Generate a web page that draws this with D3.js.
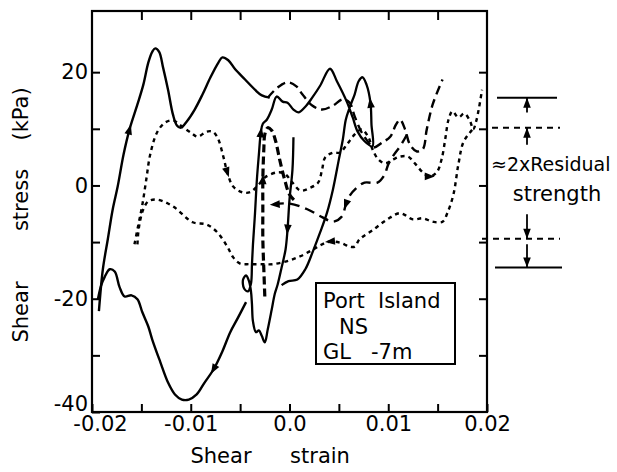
<!DOCTYPE html>
<html>
<head>
<meta charset="utf-8">
<style>
body{margin:0;background:#fff}
svg text{font-family:"DejaVu Sans",sans-serif;font-size:21px;fill:#000;white-space:pre}
</style>
</head>
<body>
<script src="https://d3js.org/d3.v7.min.js"></script>
<svg width="617" height="472"></svg>
<script>
// shear strain / shear stress (kPa) pairs
const solidUpper = [[-0.0193,-22.2],[-0.0189,-14.8],[-0.0184,-9.5],[-0.0179,-4.2],[-0.0174,-0.2],[-0.0168,5.5],[-0.0162,9.9],[-0.0154,14.3],[-0.0148,17.8],[-0.0143,21.7],[-0.0139,23.6],[-0.0136,24.2],[-0.0132,23.6],[-0.0128,20.8],[-0.0123,16.9],[-0.0118,12.5],[-0.0114,10.6],[-0.0110,10.2],[-0.0104,11.3],[-0.0096,13.4],[-0.0088,16.1],[-0.0080,19.1],[-0.0072,21.7],[-0.0068,22.6],[-0.0062,22.1],[-0.0055,20.5],[-0.0045,18.7],[-0.0035,16.9],[-0.0028,15.9],[-0.0020,15.5]]
const solidValley = [[-0.0044,-20.6],[-0.0052,-23.3],[-0.0060,-25.9],[-0.0068,-29.3],[-0.0077,-32.5],[-0.0086,-34.8],[-0.0094,-36.9],[-0.0102,-37.8],[-0.0109,-37.8],[-0.0116,-36.9],[-0.0123,-34.8],[-0.0131,-31.1],[-0.0139,-27.2],[-0.0143,-24.9],[-0.0149,-22.4],[-0.0154,-20.1],[-0.0160,-19.4],[-0.0167,-19.6],[-0.0172,-18.0],[-0.0177,-15.2],[-0.0182,-14.8],[-0.0187,-16.1],[-0.0191,-17.8],[-0.0194,-20.1]]
const solidLoop = [[0.0004,8.5],[0.0003,2.8],[0.0000,-2.5],[-0.0002,-7.8],[-0.0004,-11.3],[-0.0008,-14.5],[-0.0012,-17.5],[-0.0015,-19.2],[-0.0018,-21.9],[-0.0022,-25.4],[-0.0025,-27.7],[-0.0028,-26.6],[-0.0031,-25.6],[-0.0034,-25.9],[-0.0037,-24.0],[-0.0038,-21.0],[-0.0039,-18.7],[-0.0041,-16.9],[-0.0044,-15.9],[-0.0047,-16.6],[-0.0046,-18.2],[-0.0042,-18.7],[-0.0039,-17.3],[-0.0038,-13.9],[-0.0037,-10.4],[-0.0035,-5.1],[-0.0033,1.1],[-0.0031,5.5],[-0.0029,9.4],[-0.0027,10.9],[-0.0023,11.6],[-0.0018,13.4],[-0.0013,15.7],[-0.0007,14.8],[-0.0002,14.6],[0.0004,13.4],[0.0009,12.9],[0.0016,13.9],[0.0023,15.5],[0.0031,17.6],[0.0041,20.6],[0.0048,18.4],[0.0058,14.8],[0.0064,12.0],[0.0069,9.5],[0.0076,7.8],[0.0084,6.9],[0.0083,10.8],[0.0082,14.6],[0.0078,17.8],[0.0074,19.1],[0.0070,18.4],[0.0066,16.1],[0.0061,13.8],[0.0057,11.6],[0.0054,8.1],[0.0050,4.6],[0.0044,-0.7],[0.0038,-4.8],[0.0031,-8.3],[0.0024,-11.5],[0.0016,-14.8],[0.0008,-16.6],[-0.0001,-16.9],[-0.0008,-17.6]]
const dashLong1 = [[-0.0022,15.5],[-0.0012,17.3],[-0.0002,18.2],[0.0007,17.5],[0.0013,16.1],[0.0023,14.1],[0.0033,13.4],[0.0044,14.1],[0.0054,15.2],[0.0061,14.6],[0.0066,12.2],[0.0073,9.4],[0.0080,7.6],[0.0085,6.7],[0.0094,7.6],[0.0102,8.6],[0.0108,10.8],[0.0112,11.6],[0.0117,9.9],[0.0122,7.2],[0.0129,6.0],[0.0135,6.4],[0.0139,9.9],[0.0145,14.3],[0.0155,18.7]]
const dashLong2 = [[0.0119,9.0],[0.0112,6.9],[0.0106,5.5],[0.0100,3.7],[0.0096,1.8],[0.0089,0.5],[0.0076,0.5],[0.0068,-0.4],[0.0061,-1.8],[0.0057,-3.4],[0.0053,-5.5],[0.0044,-6.4],[0.0033,-5.6],[0.0018,-4.2],[0.0000,-3.2],[-0.0020,-3.4]]
const dashVertical = [[-0.0025,-19.6],[-0.0026,-14.8],[-0.0027,-9.5],[-0.0027,-4.2],[-0.0027,1.1],[-0.0026,6.4],[-0.0025,9.0],[-0.0022,10.2],[-0.0018,9.7],[-0.0014,7.8],[-0.0010,4.6],[-0.0005,1.1],[0.0000,-1.6],[0.0006,-2.8]]
const dotUpper = [[-0.0157,-10.4],[-0.0153,-6.9],[-0.0149,-3.4],[-0.0145,1.1],[-0.0141,5.5],[-0.0134,9.4],[-0.0126,11.1],[-0.0118,11.5],[-0.0109,10.4],[-0.0099,9.2],[-0.0093,8.6],[-0.0084,9.5],[-0.0078,9.5],[-0.0073,8.5],[-0.0067,5.1],[-0.0063,2.3],[-0.0057,-0.2],[-0.0048,-1.2],[-0.0040,-1.2],[-0.0032,0.0],[-0.0025,1.4],[-0.0013,2.3],[-0.0005,2.1],[0.0003,0.5],[0.0011,-0.9],[0.0021,-0.4],[0.0029,0.5],[0.0033,2.8],[0.0036,4.9],[0.0044,5.8],[0.0051,5.8],[0.0058,7.2],[0.0066,9.0],[0.0073,9.9],[0.0080,8.5],[0.0084,6.4],[0.0090,4.6],[0.0097,3.9],[0.0105,4.6],[0.0112,5.1],[0.0120,5.1],[0.0127,3.9],[0.0135,2.3],[0.0142,1.6],[0.0149,2.3],[0.0154,4.6],[0.0158,8.5],[0.0161,11.6],[0.0165,13.1],[0.0171,12.0],[0.0177,12.7],[0.0183,11.3],[0.0186,9.9],[0.0189,11.3],[0.0192,13.8],[0.0195,16.9]]
const dotLower = [[-0.0154,-10.4],[-0.0153,-8.1],[-0.0151,-6.0],[-0.0148,-4.2],[-0.0143,-2.8],[-0.0134,-2.5],[-0.0118,-3.7],[-0.0098,-6.5],[-0.0084,-6.9],[-0.0073,-8.3],[-0.0063,-10.8],[-0.0057,-12.7],[-0.0050,-13.8],[-0.0040,-13.9],[-0.0027,-13.9],[-0.0017,-13.9],[-0.0003,-13.4],[0.0011,-12.5],[0.0024,-11.3],[0.0033,-10.4],[0.0041,-9.9],[0.0051,-10.1],[0.0061,-10.8],[0.0066,-10.8],[0.0071,-9.5],[0.0085,-7.8],[0.0099,-6.0],[0.0112,-4.9],[0.0125,-6.0],[0.0135,-5.8],[0.0145,-6.4],[0.0155,-6.4],[0.0160,-4.8],[0.0166,-1.6],[0.0171,3.7],[0.0176,7.6],[0.0183,9.4],[0.0188,10.4]]

const strainTicks = [-0.02,-0.015,-0.01,-0.005,0,0.005,0.01,0.015,0.02]
const strainLabels = {"-0.02":"-0.02","-0.01":"-0.01","0":"0.0","0.01":"0.01","0.02":"0.02"}
const stressTicks = [-40,-30,-20,-10,0,10,20]
const stressLabels = {"-40":"-40","-20":"-20","0":"0","20":"20"}

// residual strength band drawn at the right
const residualSolid = [15.5,-14.5]
const residualDashed = [10.2,-9.4]
const residualArrows = [[12.9,15.5],[7.2,10.2],[-5.1,-9.4],[-10.4,-14.5]]

const svg = d3.select("svg")
const x = d3.scaleLinear().domain([-0.02,0.02]).range([92,487])
const y = d3.scaleLinear().domain([-40,30.8]).range([412,11])

svg.append("rect").attr("x",92).attr("y",11).attr("width",395).attr("height",401)
    .attr("fill","none").attr("stroke","black").attr("stroke-width",2.2)

const xAxis = d3.axisBottom(x).tickValues(strainTicks).tickSize(-8).tickPadding(4)
    .tickFormat(d => strainLabels[String(+d.toFixed(3))] || "")
const gx = svg.append("g").attr("transform","translate(0,412)").call(xAxis)
gx.selectAll(".tick text").filter(d => d === -0.02).attr("dx",8)
svg.append("g").attr("transform","translate(0,11)")
    .call(d3.axisTop(x).tickValues(strainTicks.slice(1,-1)).tickSize(-9).tickFormat(""))
const yAxis = d3.axisLeft(y).tickValues(stressTicks).tickSize(-8).tickPadding(4)
    .tickFormat(d => stressLabels[String(d)] || "")
const gy = svg.append("g").attr("transform","translate(92,0)").call(yAxis)
gy.selectAll(".tick text").filter(d => d === -40).attr("dy","-0.08em")
svg.append("g").attr("transform","translate(487,0)")
    .call(d3.axisRight(y).tickValues(stressTicks.slice(1)).tickSize(-8).tickFormat(""))
svg.selectAll(".domain").remove()
svg.selectAll(".tick line").attr("stroke-width",2)

const line = d3.line().x(d => x(d[0])).y(d => y(d[1])).curve(d3.curveCatmullRom.alpha(0.5))

function draw(data, dash, w) {
    svg.append("path").attr("d",line(data)).attr("fill","none")
        .attr("stroke","black").attr("stroke-width",w)
        .attr("stroke-dasharray",dash).attr("stroke-linejoin","round")
}
draw(solidUpper,null,2.4)
draw(solidValley,null,2.4)
draw(solidLoop,null,2.3)
draw(dashLong1,"9,5",2.4)
draw(dashLong2,"10,6",2.4)
draw(dashVertical,"8,4",3.2)
draw(dotUpper,"4,4",2.4)
draw(dotLower,"4,4",2.4)

function head(px, py, ang) {
    const L = 10, H = 3.8
    const bx = px - L*Math.cos(ang), by = py - L*Math.sin(ang)
    svg.append("path")
        .attr("d",`M${px},${py}L${bx - H*Math.sin(ang)},${by + H*Math.cos(ang)}L${bx + H*Math.sin(ang)},${by - H*Math.cos(ang)}Z`)
        .attr("fill","black")
}
function arrowAt(data, i, dir) {
    const a = data[Math.max(i-1,0)], b = data[Math.min(i+1,data.length-1)]
    let ang = Math.atan2(y(b[1])-y(a[1]), x(b[0])-x(a[0]))
    if (dir < 0) ang += Math.PI
    const p = data[i]
    head(x(p[0]) + 5*Math.cos(ang), y(p[1]) + 5*Math.sin(ang), ang)
}
arrowAt(solidUpper,6,1)
arrowAt(solidValley,4,1)
arrowAt(solidLoop,3,1)
arrowAt(solidLoop,28,1)
arrowAt(solidLoop,48,1)
arrowAt(dashLong2,9,1)
arrowAt(dashVertical,4,1)
arrowAt(dotUpper,15,1)
arrowAt(dotUpper,43,1)
arrowAt(dotLower,20,-1)
{
    const n = dashLong2.length, a = dashLong2[n-2], b = dashLong2[n-1]
    head(x(b[0]), y(b[1]), Math.atan2(y(b[1])-y(a[1]), x(b[0])-x(a[0])))
}

// annotation on the right
residualSolid.forEach((v,i) => {
    svg.append("line").attr("x1",i ? 495 : 497).attr("x2",i ? 562 : 557)
        .attr("y1",y(v)).attr("y2",y(v)).attr("stroke","black").attr("stroke-width",2)
})
residualDashed.forEach((v,i) => {
    svg.append("line").attr("x1",i ? 482 : 492).attr("x2",560)
        .attr("y1",y(v)).attr("y2",y(v)).attr("stroke","black").attr("stroke-width",2)
        .attr("stroke-dasharray","6,5")
})
residualArrows.forEach(r => {
    svg.append("line").attr("x1",527).attr("x2",527).attr("y1",y(r[0])).attr("y2",y(r[1]))
        .attr("stroke","black").attr("stroke-width",1.8)
    head(527, y(r[1]), r[1] > r[0] ? -Math.PI/2 : Math.PI/2)
})
svg.append("text").attr("x",491).attr("y",171).style("font-size","19px").text("≈2xResidual")
svg.append("text").attr("x",557).attr("y",201).attr("text-anchor","middle").text("strength")

// site box
svg.append("rect").attr("x",316).attr("y",283).attr("width",139).attr("height",81)
    .attr("fill","white").attr("stroke","black").attr("stroke-width",2)
svg.append("text").attr("x",323).attr("y",308).text("Port  Island")
svg.append("text").attr("x",339).attr("y",334).text("NS")
svg.append("text").attr("x",323).attr("y",359).text("GL   -7m")

// axis titles
svg.append("text").attr("x",221).attr("y",463).attr("text-anchor","middle").text("Shear")
svg.append("text").attr("x",320).attr("y",463).attr("text-anchor","middle").text("strain")
;[["Shear",312],["stress",200],["(kPa)",114]].forEach(t => {
    svg.append("text").attr("transform",`translate(28,${t[1]}) rotate(-90)`)
        .attr("text-anchor","middle").text(t[0])
})
</script>
</body>
</html>
